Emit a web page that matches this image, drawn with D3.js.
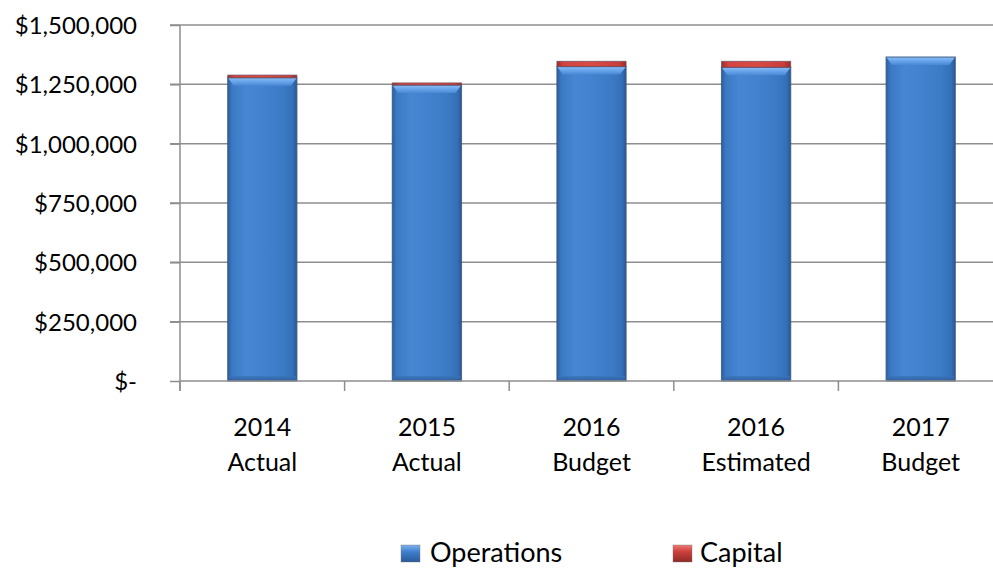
<!DOCTYPE html>
<html>
<head>
<meta charset="utf-8">
<script src="https://cdn.jsdelivr.net/npm/d3@7"></script>
<style>
  html, body { margin: 0; padding: 0; background: #fff; }
  svg { display: block; font-family: Lato, "Open Sans", sans-serif; }
</style>
</head>
<body>
<svg id="chart" width="993" height="569"></svg>
<script>
const categories = [["2014", "Actual"], ["2015", "Actual"], ["2016", "Budget"], ["2016", "Estimated"], ["2017", "Budget"]];
const operations = [1278000, 1247000, 1325000, 1322000, 1365000];
const capital = [11000, 9000, 22000, 25000, 0];
const yTicks = [0, 250000, 500000, 750000, 1000000, 1250000, 1500000];
const seriesNames = ["Operations", "Capital"];

(function () {
const svg = d3.select("#chart");
const mLeft = 180, mRight = 1003, mTop = 25, mBottom = 381;

const keys = categories.map(c => c.join(" "));
const x = d3.scaleBand().domain(keys).range([mLeft, mRight]).paddingInner(0.58).paddingOuter(0.29);
const y = d3.scaleLinear().domain([0, 1500000]).range([mBottom, mTop]);

// gradients
const defs = svg.append("defs");
function hGrad(id, stops) {
  const g = defs.append("linearGradient").attr("id", id).attr("x1", "0").attr("x2", "1").attr("y1", "0").attr("y2", "0");
  stops.forEach(s => g.append("stop").attr("offset", s[0]).attr("stop-color", s[1]));
}
function vGrad(id, stops) {
  const g = defs.append("linearGradient").attr("id", id).attr("x1", "0").attr("x2", "0").attr("y1", "0").attr("y2", "1");
  stops.forEach(s => g.append("stop").attr("offset", s[0]).attr("stop-color", s[1]));
}
hGrad("blueBody", [[0, "#2c5f9f"], [0.06, "#3a78c2"], [0.25, "#4686d2"], [0.5, "#4282cf"], [0.8, "#3c7ac5"], [0.94, "#3470b8"], [1, "#2a5893"]]);
vGrad("blueTop", [[0, "#8cc0f5"], [0.5, "#66a3ea"], [1, "#4a88d4"]]);
vGrad("blueBottom", [[0, "#3a74bb"], [1, "#2c5c98"]]);
hGrad("redBody", [[0, "#9e2f2b"], [0.1, "#d2443f"], [0.5, "#d94a45"], [0.9, "#c93e3a"], [1, "#982c29"]]);
vGrad("blueLeg", [[0, "#7db3ee"], [0.4, "#3f7fcd"], [1, "#2a5a99"]]);
vGrad("redLeg", [[0, "#ee7a75"], [0.4, "#cc3f3b"], [1, "#8f2a27"]]);

// gridlines
const grid = svg.append("g");
grid.selectAll("line").data(yTicks.filter(t => t > 0)).join("line")
  .attr("x1", mLeft - 10).attr("x2", mRight)
  .attr("y1", d => y(d)).attr("y2", d => y(d))
  .attr("stroke", "#8e8e8e").attr("stroke-width", 1.5);

// y axis
const yAxis = d3.axisLeft(y).tickValues(yTicks).tickSize(10).tickPadding(33)
  .tickFormat(d => d === 0 ? "$-" : "$" + d3.format(",")(d));
const ya = svg.append("g").attr("transform", `translate(${mLeft},0)`).call(yAxis);
ya.select(".domain").attr("stroke", "#8e8e8e").attr("stroke-width", 1.5).attr("d", `M0,${mTop}V${mBottom + 10}`);
ya.selectAll(".tick line").attr("stroke", "#8e8e8e").attr("stroke-width", 1.5);
ya.selectAll(".tick text").attr("font-size", 24).attr("fill", "#000").attr("font-family", "Lato, 'Open Sans', sans-serif").attr("dy", "0.36em");

// bars
const bars = svg.append("g");
keys.forEach((k, i) => {
  const x0 = x(k), bw = x.bandwidth();
  const yOps = y(operations[i]);
  const hOps = mBottom - yOps;
  const g = bars.append("g");
  g.append("rect").attr("x", x0).attr("y", yOps).attr("width", bw).attr("height", hOps).attr("fill", "url(#blueBody)");
  g.append("rect").attr("x", x0 + 1).attr("y", mBottom - 5).attr("width", bw - 2).attr("height", 5).attr("fill", "url(#blueBottom)").attr("opacity", 0.8);
  const bev = 8;
  g.append("path")
    .attr("d", `M${x0},${yOps}H${x0 + bw}L${x0 + bw - 6},${yOps + bev}H${x0 + 6}Z`)
    .attr("fill", "url(#blueTop)");
  g.append("rect").attr("x", x0).attr("y", yOps).attr("width", bw).attr("height", hOps)
    .attr("fill", "none").attr("stroke", "#3a5680").attr("stroke-opacity", 0.8).attr("stroke-width", 1.2);
  if (capital[i] > 0) {
    const yCap = y(operations[i] + capital[i]);
    g.append("rect").attr("x", x0).attr("y", yCap).attr("width", bw).attr("height", yOps - yCap)
      .attr("fill", "url(#redBody)").attr("stroke", "#6e4a5a").attr("stroke-opacity", 0.7).attr("stroke-width", 1);
  }
});

// x axis baseline
svg.append("line").attr("x1", mLeft).attr("x2", mRight).attr("y1", mBottom).attr("y2", mBottom)
  .attr("stroke", "#8e8e8e").attr("stroke-width", 1.5);
const bounds = keys.map(k => x(k) - x.step() * x.paddingInner() / 2).concat([mRight]);
svg.append("g").selectAll("line").data(bounds).join("line")
  .attr("x1", d => d).attr("x2", d => d).attr("y1", mBottom).attr("y2", mBottom + 10)
  .attr("stroke", "#8e8e8e").attr("stroke-width", 1.5);

// category labels
const xl = svg.append("g");
keys.forEach((k, i) => {
  const cx = x(k) + x.bandwidth() / 2;
  const t = xl.append("text").attr("text-anchor", "middle").attr("font-size", 25).attr("fill", "#000");
  t.append("tspan").attr("x", cx).attr("y", 436).text(categories[i][0]);
  t.append("tspan").attr("x", cx).attr("y", 471).text(categories[i][1]);
});

// legend
const legend = svg.append("g");
const legItems = [
  { name: seriesNames[0], fill: "url(#blueLeg)", sx: 401, tx: 430 },
  { name: seriesNames[1], fill: "url(#redLeg)", sx: 673, tx: 700 }
];
legItems.forEach(d => {
  legend.append("rect").attr("x", d.sx).attr("y", 545).attr("width", 19).attr("height", 17)
    .attr("fill", d.fill).attr("stroke", "#777").attr("stroke-opacity", 0.4);
  legend.append("text").attr("x", d.tx).attr("y", 562).attr("font-size", 27).attr("fill", "#000").text(d.name);
});
})();
</script>
</body>
</html>
